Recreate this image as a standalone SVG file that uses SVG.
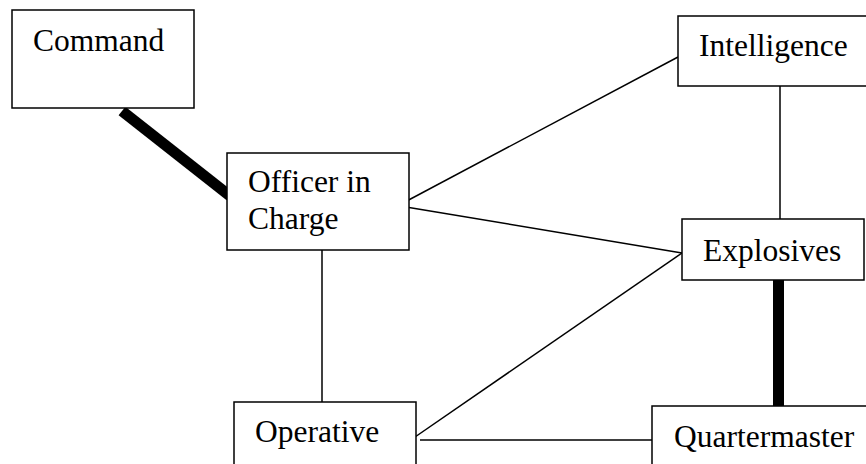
<svg xmlns="http://www.w3.org/2000/svg" width="866" height="464" viewBox="0 0 866 464">
<style>
.box{fill:#fff;stroke:#000;stroke-width:1.5}
.t{font-family:"Liberation Serif","Times New Roman",serif;font-size:31.5px;fill:#000}
.c{stroke:#000;stroke-width:1.5;fill:none}
.k{stroke:#000;stroke-width:11;fill:none}
</style>
<rect width="866" height="464" fill="#fff"/>
<g id="connectors">
<line class="k" x1="122" y1="111" x2="230" y2="196"/>
<line class="c" x1="403" y1="203" x2="678" y2="57"/>
<line class="c" x1="406" y1="207" x2="682" y2="253"/>
<line class="c" x1="780" y1="86" x2="780" y2="219"/>
<line class="k" x1="778.5" y1="280" x2="778.5" y2="406"/>
<line class="c" x1="322" y1="250" x2="322" y2="402"/>
<line class="c" x1="415" y1="437" x2="682" y2="253"/>
<line class="c" x1="420" y1="440" x2="652" y2="440"/>
</g>
<g id="command"><rect class="box" x="12" y="10" width="182" height="98"/><text class="t" x="33" y="51">Command</text></g>
<g id="intelligence"><rect class="box" x="678" y="16" width="200" height="70"/><text class="t" x="699" y="56">Intelligence</text></g>
<g id="officer"><rect class="box" x="227" y="153" width="182" height="97"/><text class="t" x="248" y="192">Officer in</text><text class="t" x="248" y="229">Charge</text></g>
<g id="explosives"><rect class="box" x="682" y="219" width="182" height="61"/><text class="t" x="703" y="261">Explosives</text></g>
<g id="operative"><rect class="box" x="234" y="402" width="182" height="70"/><text class="t" x="255" y="442">Operative</text></g>
<g id="quartermaster"><rect class="box" x="652" y="406" width="230" height="70"/><text class="t" x="674" y="447">Quartermaster</text></g>
</svg>
